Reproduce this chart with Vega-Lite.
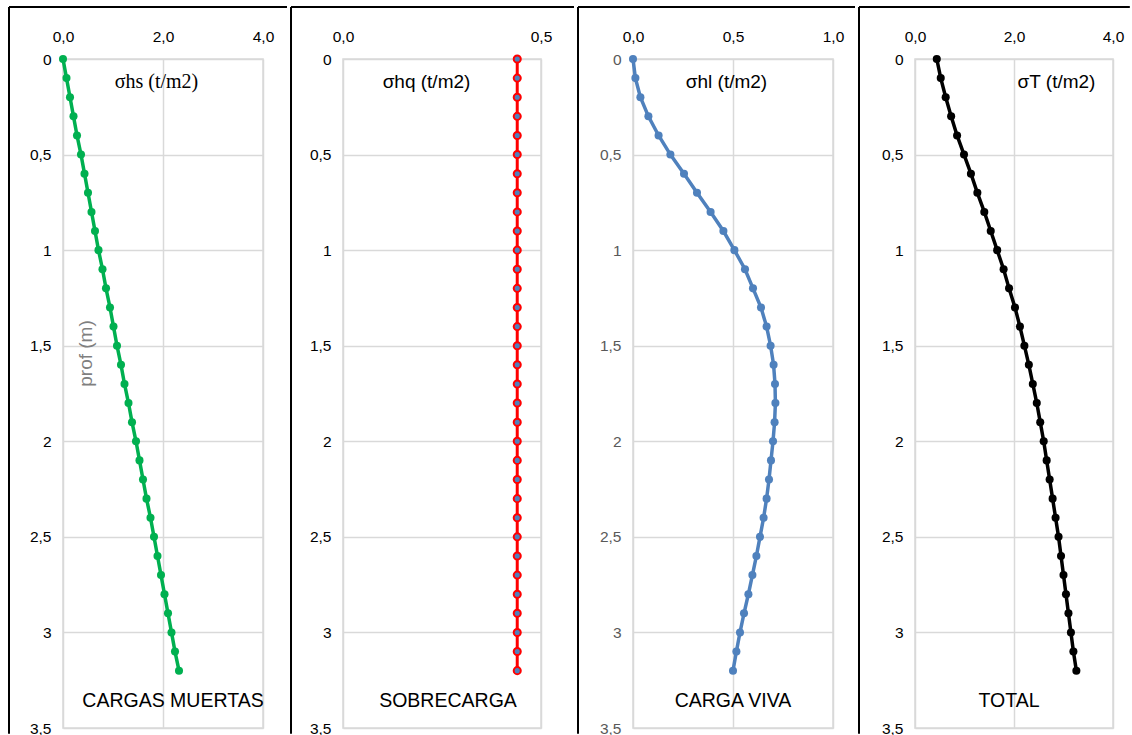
{
  "$schema": "https://vega.github.io/schema/vega-lite/v6.json",
  "background": "white",
  "padding": {"left": 7, "top": 5, "right": 0, "bottom": 0},
  "spacing": 0,
  "bounds": "full",
  "datasets": {
    "d": [
      {"prof": 0.0, "hs": 0.00, "hq": 0.44, "hl": 0.000, "T": 0.44},
      {"prof": 0.1, "hs": 0.07, "hq": 0.44, "hl": 0.012, "T": 0.52},
      {"prof": 0.2, "hs": 0.14, "hq": 0.44, "hl": 0.037, "T": 0.62},
      {"prof": 0.3, "hs": 0.21, "hq": 0.44, "hl": 0.077, "T": 0.73},
      {"prof": 0.4, "hs": 0.28, "hq": 0.44, "hl": 0.128, "T": 0.85},
      {"prof": 0.5, "hs": 0.36, "hq": 0.44, "hl": 0.187, "T": 0.99},
      {"prof": 0.6, "hs": 0.43, "hq": 0.44, "hl": 0.255, "T": 1.13},
      {"prof": 0.7, "hs": 0.50, "hq": 0.44, "hl": 0.320, "T": 1.26},
      {"prof": 0.8, "hs": 0.57, "hq": 0.44, "hl": 0.388, "T": 1.40},
      {"prof": 0.9, "hs": 0.64, "hq": 0.44, "hl": 0.452, "T": 1.53},
      {"prof": 1.0, "hs": 0.71, "hq": 0.44, "hl": 0.507, "T": 1.66},
      {"prof": 1.1, "hs": 0.79, "hq": 0.44, "hl": 0.560, "T": 1.79},
      {"prof": 1.2, "hs": 0.86, "hq": 0.44, "hl": 0.600, "T": 1.90},
      {"prof": 1.3, "hs": 0.94, "hq": 0.44, "hl": 0.640, "T": 2.02},
      {"prof": 1.4, "hs": 1.01, "hq": 0.44, "hl": 0.668, "T": 2.12},
      {"prof": 1.5, "hs": 1.08, "hq": 0.44, "hl": 0.688, "T": 2.21},
      {"prof": 1.6, "hs": 1.16, "hq": 0.44, "hl": 0.703, "T": 2.30},
      {"prof": 1.7, "hs": 1.23, "hq": 0.44, "hl": 0.710, "T": 2.38},
      {"prof": 1.8, "hs": 1.31, "hq": 0.44, "hl": 0.712, "T": 2.46},
      {"prof": 1.9, "hs": 1.38, "hq": 0.44, "hl": 0.708, "T": 2.53},
      {"prof": 2.0, "hs": 1.46, "hq": 0.44, "hl": 0.700, "T": 2.60},
      {"prof": 2.1, "hs": 1.53, "hq": 0.44, "hl": 0.690, "T": 2.66},
      {"prof": 2.2, "hs": 1.60, "hq": 0.44, "hl": 0.680, "T": 2.72},
      {"prof": 2.3, "hs": 1.67, "hq": 0.44, "hl": 0.668, "T": 2.78},
      {"prof": 2.4, "hs": 1.75, "hq": 0.44, "hl": 0.653, "T": 2.84},
      {"prof": 2.5, "hs": 1.82, "hq": 0.44, "hl": 0.635, "T": 2.90},
      {"prof": 2.6, "hs": 1.89, "hq": 0.44, "hl": 0.617, "T": 2.95},
      {"prof": 2.7, "hs": 1.96, "hq": 0.44, "hl": 0.597, "T": 3.00},
      {"prof": 2.8, "hs": 2.03, "hq": 0.44, "hl": 0.577, "T": 3.05},
      {"prof": 2.9, "hs": 2.10, "hq": 0.44, "hl": 0.555, "T": 3.10},
      {"prof": 3.0, "hs": 2.17, "hq": 0.44, "hl": 0.535, "T": 3.15},
      {"prof": 3.1, "hs": 2.24, "hq": 0.44, "hl": 0.517, "T": 3.20},
      {"prof": 3.2, "hs": 2.32, "hq": 0.44, "hl": 0.500, "T": 3.26}
    ]
  },
  "config": {
    "view": {"stroke": "#d9d9d9", "strokeWidth": 1.5},
    "axis": {
      "grid": true, "gridColor": "#d9d9d9", "gridWidth": 1.5,
      "domain": false, "ticks": false, "labelFlush": false,
      "labelFont": "Liberation Sans", "labelFontSize": 15.5, "labelColor": "#000000",
      "titleFont": "Liberation Sans", "titleFontWeight": "normal", "titleColor": "#000000"
    },
    "title": {"font": "Liberation Sans", "fontSize": 19.5, "fontWeight": "normal", "color": "#000000", "orient": "bottom", "offset": -45, "frame": "group", "anchor": "middle"}
  },
  "hconcat": [
    {
      "width": 200, "height": 669,
      "title": {"text": "CARGAS MUERTAS", "dx": 10},
      "layer": [
        {
          "data": {"name": "d"},
          "mark": {"type": "line", "color": "#00B050", "strokeWidth": 3.5, "point": {"filled": true, "size": 65, "color": "#00B050"}},
          "encoding": {
            "x": {"field": "hs", "type": "quantitative", "scale": {"domain": [0, 4], "nice": false},
              "axis": {"orient": "top", "values": [0, 2, 4], "labelExpr": "replace(format(datum.value, '.1f'), '.', ',')", "labelPadding": 15,
                "title": "σhs (t/m2)", "titleFont": "Liberation Serif", "titleFontSize": 20, "titleX": 93, "titleY": 22, "titleBaseline": "middle", "titleAlign": "center"}},
            "y": {"field": "prof", "type": "quantitative", "scale": {"domain": [0, 3.5], "reverse": true, "nice": false},
              "axis": {"values": [0, 0.5, 1, 1.5, 2, 2.5, 3, 3.5], "labelExpr": "replace(toString(datum.value), '.', ',')", "labelPadding": 12,
                "title": "prof (m)", "titleFontSize": 19, "titleColor": "#7f7f7f", "titleX": 22, "titleY": 294, "titleBaseline": "middle", "titleAlign": "center", "titleAngle": 270}},
            "order": {"field": "prof", "type": "quantitative"}
          }
        },
        {
          "data": {"values": [{}]},
          "mark": {"type": "rule", "color": "#000000", "strokeWidth": 2},
          "encoding": {"x": {"datum": -1.08}, "y": {"datum": -0.272}, "y2": {"datum": 3.53}}
        },
        {
          "data": {"values": [{}]},
          "mark": {"type": "rule", "color": "#000000", "strokeWidth": 2},
          "encoding": {"x": {"datum": -1.08}, "x2": {"datum": 4.48}, "y": {"datum": -0.272}}
        }
      ]
    },
    {
      "width": 198, "height": 669,
      "title": {"text": "SOBRECARGA", "dx": 6},
      "layer": [
        {
          "data": {"name": "d"},
          "mark": {"type": "line", "color": "#FF0000", "strokeWidth": 3, "point": {"filled": true, "size": 50, "fill": "#4F81BD", "stroke": "#FF0000", "strokeWidth": 2}},
          "encoding": {
            "x": {"field": "hq", "type": "quantitative", "scale": {"domain": [0, 0.5], "nice": false},
              "axis": {"orient": "top", "values": [0, 0.5], "labelExpr": "replace(format(datum.value, '.1f'), '.', ',')", "labelPadding": 15,
                "title": "σhq (t/m2)", "titleFontSize": 19, "titleX": 83, "titleY": 22, "titleBaseline": "middle", "titleAlign": "center"}},
            "y": {"field": "prof", "type": "quantitative", "scale": {"domain": [0, 3.5], "reverse": true, "nice": false},
              "axis": {"values": [0, 0.5, 1, 1.5, 2, 2.5, 3, 3.5], "labelExpr": "replace(toString(datum.value), '.', ',')", "labelPadding": 12, "title": null}},
            "order": {"field": "prof", "type": "quantitative"}
          }
        },
        {
          "data": {"values": [{}]},
          "mark": {"type": "rule", "color": "#000000", "strokeWidth": 2},
          "encoding": {"x": {"datum": -0.1313}, "y": {"datum": -0.272}, "y2": {"datum": 3.53}}
        },
        {
          "data": {"values": [{}]},
          "mark": {"type": "rule", "color": "#000000", "strokeWidth": 2},
          "encoding": {"x": {"datum": -0.1313}, "x2": {"datum": 0.5833}, "y": {"datum": -0.272}}
        }
      ]
    },
    {
      "width": 200, "height": 669,
      "title": {"text": "CARGA VIVA", "dx": 0},
      "layer": [
        {
          "data": {"name": "d"},
          "mark": {"type": "line", "color": "#4F81BD", "strokeWidth": 3.5, "point": {"filled": true, "size": 65, "color": "#4F81BD"}},
          "encoding": {
            "x": {"field": "hl", "type": "quantitative", "scale": {"domain": [0, 1], "nice": false},
              "axis": {"orient": "top", "values": [0, 0.5, 1], "labelExpr": "replace(format(datum.value, '.1f'), '.', ',')", "labelPadding": 15,
                "title": "σhl (t/m2)", "titleFontSize": 19, "titleX": 93, "titleY": 22, "titleBaseline": "middle", "titleAlign": "center"}},
            "y": {"field": "prof", "type": "quantitative", "scale": {"domain": [0, 3.5], "reverse": true, "nice": false},
              "axis": {"values": [0, 0.5, 1, 1.5, 2, 2.5, 3, 3.5], "labelExpr": "replace(toString(datum.value), '.', ',')", "labelPadding": 12, "labelColor": "#595959", "title": null}},
            "order": {"field": "prof", "type": "quantitative"}
          }
        },
        {
          "data": {"values": [{}]},
          "mark": {"type": "rule", "color": "#000000", "strokeWidth": 2},
          "encoding": {"x": {"datum": -0.275}, "y": {"datum": -0.272}, "y2": {"datum": 3.53}}
        },
        {
          "data": {"values": [{}]},
          "mark": {"type": "rule", "color": "#000000", "strokeWidth": 2},
          "encoding": {"x": {"datum": -0.275}, "x2": {"datum": 1.11}, "y": {"datum": -0.272}}
        }
      ]
    },
    {
      "width": 198, "height": 669,
      "title": {"text": "TOTAL", "dx": -5},
      "layer": [
        {
          "data": {"name": "d"},
          "mark": {"type": "line", "color": "#000000", "strokeWidth": 3.5, "point": {"filled": true, "size": 65, "color": "#000000"}},
          "encoding": {
            "x": {"field": "T", "type": "quantitative", "scale": {"domain": [0, 4], "nice": false},
              "axis": {"orient": "top", "values": [0, 2, 4], "labelExpr": "replace(format(datum.value, '.1f'), '.', ',')", "labelPadding": 15,
                "title": "σT (t/m2)", "titleFontSize": 19, "titleX": 141, "titleY": 22, "titleBaseline": "middle", "titleAlign": "center"}},
            "y": {"field": "prof", "type": "quantitative", "scale": {"domain": [0, 3.5], "reverse": true, "nice": false},
              "axis": {"values": [0, 0.5, 1, 1.5, 2, 2.5, 3, 3.5], "labelExpr": "replace(toString(datum.value), '.', ',')", "labelPadding": 12, "title": null}},
            "order": {"field": "prof", "type": "quantitative"}
          }
        },
        {
          "data": {"values": [{}]},
          "mark": {"type": "rule", "color": "#000000", "strokeWidth": 2},
          "encoding": {"x": {"datum": -1.1313}, "y": {"datum": -0.272}, "y2": {"datum": 3.53}}
        },
        {
          "data": {"values": [{}]},
          "mark": {"type": "rule", "color": "#000000", "strokeWidth": 2},
          "encoding": {"x": {"datum": -1.1313}, "x2": {"datum": 4.34}, "y": {"datum": -0.272}}
        }
      ]
    }
  ]
}
